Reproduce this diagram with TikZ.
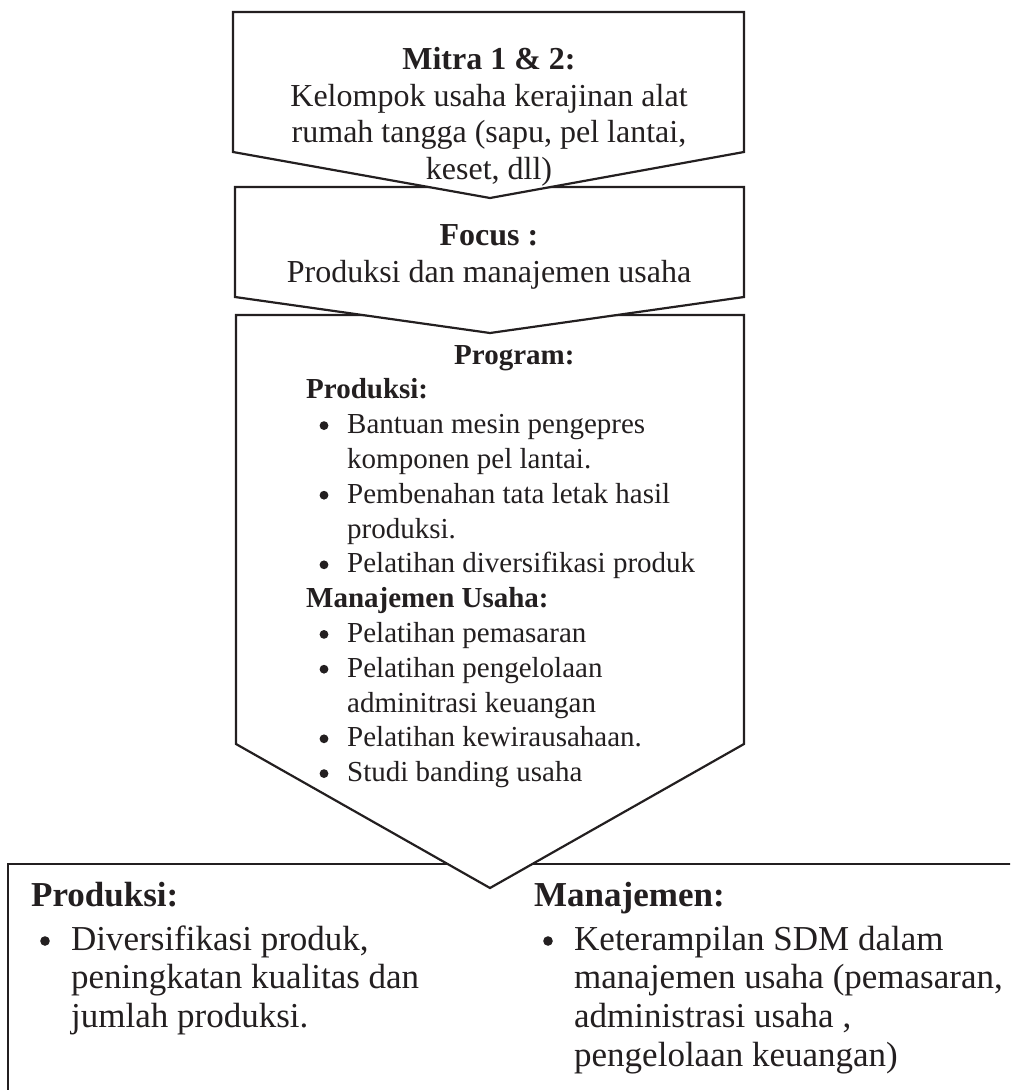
\documentclass[tikz,border=0pt]{standalone}
\usepackage{fontspec}
\setmainfont{Liberation Serif}
\definecolor{ink}{HTML}{231F20}
\begin{document}
\begin{tikzpicture}[x=1pt,y=-1pt,
  box/.style={draw=ink, line width=2.2pt, fill=white, line join=miter},
  ta/.style={font=\fontsize{32}{36.7}\selectfont, text=ink, anchor=base, inner sep=0pt},
  tb/.style={font=\fontsize{29}{34.8}\selectfont, text=ink, anchor=base west, inner sep=0pt},
  tc/.style={font=\fontsize{35}{38.8}\selectfont, text=ink, anchor=base west, inner sep=0pt},
  dotb/.style={fill=ink}]
\useasboundingbox (0,0) rectangle (1010,1090);
\clip (0,0) rectangle (1010,1090);
% bottom result box
\draw[box] (8,864) rectangle (1030,1110);
% program box
\draw[box] (236,315) -- (744,315) -- (744,744) -- (490,888) -- (236,744) -- cycle;
% focus box
\draw[box] (235,187) -- (744,187) -- (744,297) -- (490,333) -- (235,297) -- cycle;
% mitra box
\draw[box] (233,12) -- (744,12) -- (744,152) -- (490,198) -- (233,152) -- cycle;

% box 1 text
\node[ta, font=\fontsize{32}{36.7}\selectfont\bfseries] (m1) at (489,69) {Mitra 1 \& 2:};
\node[ta] (m2) at (489,106) {Kelompok usaha kerajinan alat};
\node[ta] (m3) at (489,142.5) {rumah tangga (sapu, pel lantai,};
\node[ta] (m4) at (489,179) {keset, dll)};
% box 2 text
\node[ta, font=\fontsize{32}{36.7}\selectfont\bfseries] (f1) at (489,245.5) {Focus :};
\node[ta] (f2) at (489,282) {Produksi dan manajemen usaha};

% box 3 text
\node[tb, font=\fontsize{29}{34.8}\selectfont\bfseries] (p0) at (454,364) {Program:};
\node[tb, font=\fontsize{29}{34.8}\selectfont\bfseries] (p1) at (306,398.8) {Produksi:};
\node[tb] (p2) at (347,433.6) {Bantuan mesin pengepres};
\node[tb] (p3) at (347,468.4) {komponen pel lantai.};
\node[tb] (p4) at (347,503.2) {Pembenahan tata letak hasil};
\node[tb] (p5) at (347,538) {produksi.};
\node[tb] (p6) at (347,572.8) {Pelatihan diversifikasi produk};
\node[tb, font=\fontsize{29}{34.8}\selectfont\bfseries] (p7) at (306,607.6) {Manajemen Usaha:};
\node[tb] (p8) at (347,642.4) {Pelatihan pemasaran};
\node[tb] (p9) at (347,677.2) {Pelatihan pengelolaan};
\node[tb] (p10) at (347,712) {adminitrasi keuangan};
\node[tb] (p11) at (347,746.8) {Pelatihan kewirausahaan.};
\node[tb] (p12) at (347,781.6) {Studi banding usaha};
\foreach \yy in {433.6,503.2,572.8,642.4,677.2,746.8,781.6}
  \fill[dotb] (324,\yy-8) circle[radius=4.4pt];

% bottom box text
\node[tc, font=\fontsize{35}{38.8}\selectfont\bfseries] (r1) at (31,906.7) {Produksi:};
\node[tc] (r2) at (71,950) {Diversifikasi produk,};
\node[tc] (r3) at (71,988.8) {peningkatan kualitas dan};
\node[tc] (r4) at (71,1027.6) {jumlah produksi.};
\fill[dotb] (45,941) circle[radius=4.8pt];
\node[tc, font=\fontsize{35}{38.8}\selectfont\bfseries] (s1) at (534,906.7) {Manajemen:};
\node[tc] (s2) at (574,950) {Keterampilan SDM dalam};
\node[tc] (s3) at (574,988.8) {manajemen usaha (pemasaran,};
\node[tc] (s4) at (574,1027.6) {administrasi usaha ,};
\node[tc] (s5) at (574,1066.4) {pengelolaan keuangan)};
\fill[dotb] (548,941) circle[radius=4.8pt];
\end{tikzpicture}
\end{document}
